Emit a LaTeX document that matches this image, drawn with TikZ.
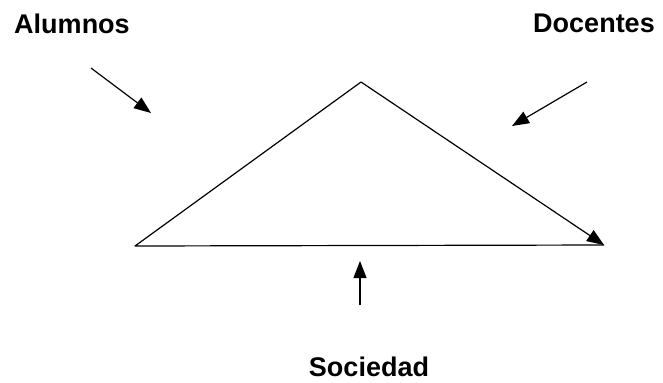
\documentclass[tikz,border=0pt]{standalone}
\usepackage{fontspec}
\setmainfont{Liberation Sans}
\usetikzlibrary{arrows.meta}
\begin{document}
\begin{tikzpicture}[x=1bp, y=-1bp, line width=1.2pt, line join=round, >={Triangle[length=17bp, width=13bp]}, font=\fontsize{27bp}{32bp}\selectfont\bfseries]
		
		% Marco de la figura
		\useasboundingbox (0,0) rectangle (663,382);
		
		% Vértices del triángulo
		\coordinate (izq) at (135,246);
		\coordinate (cima) at (361,82);
		\coordinate (der) at (604,245);
		
		% Triángulo con la flecha en el vértice derecho
		\draw (der) -- (izq) -- (cima);
		\draw[->] (cima) -- (der);
		
		% Rótulos
		\node (alum) at (72,24) {Alumnos};
		\node (doc) at (594,23) {Docentes};
		\node (soc) at (369,367) {Sociedad};
		
		% Extremos de las flechas
		\coordinate (alumA) at (91,68);
		\coordinate (alumB) at (151,113);
		\coordinate (docA) at (587,82);
		\coordinate (docB) at (512,126);
		\coordinate (socA) at (360,305);
		\coordinate (socB) at (360,261);
		
		% Flechas hacia el triángulo
		\draw[->] (alumA) -- (alumB);
		\draw[->] (docA) -- (docB);
		\draw[->] (socA) -- (socB);
		
\end{tikzpicture}
\end{document}
